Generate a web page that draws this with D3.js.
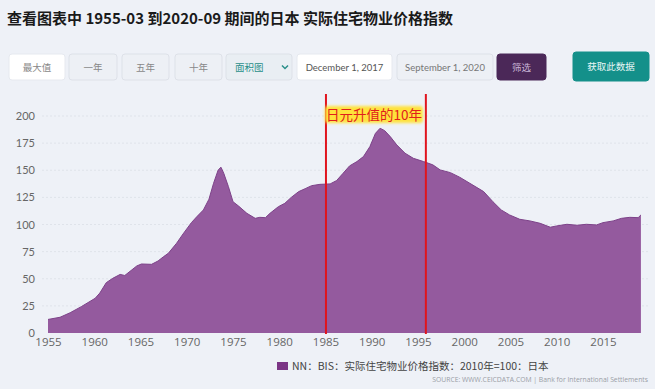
<!DOCTYPE html>
<html><head><meta charset="utf-8">
<script src="https://cdn.jsdelivr.net/npm/d3@7"></script>
<style>
html,body{margin:0;padding:0;background:#eef1f7;}
svg{display:block;font-family:"Noto Sans CJK SC","Noto Sans",sans-serif;}
</style></head>
<body><svg id="c" width="655" height="389"></svg>
<script>
const titleText = "查看图表中 1955-03 到2020-09 期间的日本 实际住宅物业价格指数";
const buttons = ["最大值","一年","五年","十年"];
const chartType = "面积图";
const dateFrom = "December 1, 2017";
const dateTo = "September 1, 2020";
const filterLabel = "筛选";
const getDataLabel = "获取此数据";
const annotationText = "日元升值的10年";
const markerYears = [1985.05, 1995.85];
const legendText = "NN：BIS：实际住宅物业价格指数：2010年=100：日本";
const sourceText = "SOURCE: WWW.CEICDATA.COM | Bank for International Settlements";
const yTicks = [0,25,50,75,100,125,150,175,200];
const xTicks = [1955,1960,1965,1970,1975,1980,1985,1990,1995,2000,2005,2010,2015];
const years = [1955.0,1956.3,1957.4,1958.6,1960.1,1960.6,1961.3,1962.0,1962.8,1963.3,1964.6,1965.1,1966.2,1966.9,1967.5,1968.0,1968.9,1969.6,1970.5,1971.1,1971.8,1972.4,1972.9,1973.4,1973.7,1974.0,1974.5,1975.0,1975.6,1976.5,1977.4,1977.9,1978.5,1979.0,1979.9,1980.6,1981.3,1982.1,1982.8,1983.5,1984.4,1985.5,1986.2,1986.9,1987.6,1988.4,1989.1,1989.8,1990.4,1990.9,1991.4,1992.0,1992.7,1993.6,1994.5,1995.6,1996.6,1997.4,1998.5,1999.5,2000.6,2002.1,2003.1,2004.0,2004.9,2006.0,2007.1,2008.2,2009.3,2010.0,2011.1,2012.2,2013.2,2014.3,2015.0,2016.1,2017.0,2017.9,2018.8,2019.1];
const values = [12.5,14.5,18.7,24.3,32,36.8,46.4,50.4,54,53,61.8,63.6,63.3,66.4,70.4,73.4,82.7,91.3,101.7,107.3,113.4,123.3,138,150.3,152.8,147.2,135,121,117,110.3,105.7,106.6,106.3,110.3,116.4,119.5,125,130.3,133,135.8,137,137.4,140.5,147.2,154,158,162.6,171.8,184,188.7,186.5,181,173.4,165.7,161,158,155,150.3,147.8,143.6,138,130.3,121,113.4,108.8,104.8,103.3,101.1,97.5,98.7,100.2,99.3,100.2,99.6,101.7,103.3,105.7,106.6,106.3,108.8];

const svg = d3.select("#c");
const defs = svg.append("defs");
defs.append("filter").attr("id","glow").attr("x","-20%").attr("y","-50%").attr("width","140%").attr("height","200%")
  .append("feGaussianBlur").attr("stdDeviation",1.5);

// title
svg.append("text").attr("x",7).attr("y",24).attr("font-size",15).attr("font-weight","bold").attr("fill","#1a1a1a").text(titleText);

// buttons
const btns = [
 {x:9,w:56,t:buttons[0],bg:"#ffffff",fg:"#888",stroke:"#e6e9ef"},
 {x:69,w:48,t:buttons[1],bg:"#edf0f5",fg:"#888",stroke:"#dde1e8"},
 {x:122,w:47,t:buttons[2],bg:"#edf0f5",fg:"#888",stroke:"#dde1e8"},
 {x:175,w:47,t:buttons[3],bg:"#edf0f5",fg:"#888",stroke:"#dde1e8"},
 {x:226,w:66,t:chartType,bg:"#e9eef3",fg:"#2a8f8a",stroke:"#dde1e8",left:true},
 {x:297,w:95,t:dateFrom,bg:"#ffffff",fg:"#555",stroke:"#e6e9ef"},
 {x:397,w:96,t:dateTo,bg:"#edf0f5",fg:"#777",stroke:"#dde1e8"},
 {x:497,w:49,t:filterLabel,bg:"#4b2858",fg:"#c9b5d6",stroke:"#4b2858"},
 {x:573,w:76,t:getDataLabel,bg:"#14908a",fg:"#e8f6f5",stroke:"#14908a",y:52,h:29}
];
btns.forEach(b=>{
  const y=b.y||54,h=b.h||26;
  svg.append("rect").attr("x",b.x).attr("y",y).attr("width",b.w).attr("height",h).attr("rx",3)
    .attr("fill",b.bg).attr("stroke",b.stroke);
  svg.append("text").attr("x",b.left?b.x+9:b.x+b.w/2).attr("y",y+h/2+3.5)
    .attr("text-anchor",b.left?"start":"middle").attr("font-size",9.5).attr("fill",b.fg)
    .attr("font-family",/^[A-Z]/.test(b.t)?"Lato, sans-serif":null).text(b.t);
  if(b.left){
    svg.append("path").attr("d",`M${b.x+b.w-10},${y+h/2-1.5} l3,3 l3,-3`).attr("fill","none").attr("stroke","#2a8f8a").attr("stroke-width",1.5);
  }
});

const x = d3.scaleLinear().domain([1955,2020]).range([48,649.25]);
const y = d3.scaleLinear().domain([0,200]).range([333,116]);

// grid
svg.append("g").selectAll("line").data(yTicks.filter(d=>d>0)).join("line")
  .attr("x1",42).attr("x2",650).attr("y1",d=>y(d)).attr("y2",d=>y(d))
  .attr("stroke","#dfe3ea").attr("stroke-dasharray","2,2");

// area
const data = years.map((yr,i)=>({yr,v:values[i]}));
svg.append("path").datum(data)
  .attr("d",d3.area().x(d=>x(d.yr)).y0(y(0)).y1(d=>y(d.v)))
  .attr("fill","#945a9e");
svg.append("path").datum(data)
  .attr("d",d3.line().x(d=>x(d.yr)).y(d=>y(d.v)))
  .attr("fill","none").attr("stroke","#7d4289").attr("stroke-width",1);

// axes
const ya = d3.axisLeft(y).tickValues(yTicks).tickSize(0).tickPadding(0);
const gy = svg.append("g").attr("transform","translate(35,0)").call(ya);
gy.select(".domain").remove();
gy.selectAll("text").attr("font-size",11).attr("fill","#666").attr("font-family","Lato, 'Open Sans', sans-serif");

const xa = d3.axisBottom(x).tickValues(xTicks).tickFormat(d3.format("d")).tickSize(0).tickPadding(4);
const gx = svg.append("g").attr("transform","translate(0,334)").call(xa);
gx.select(".domain").remove();
gx.selectAll("text").attr("font-size",11.5).attr("fill","#666").attr("font-family","'Open Sans', Lato, sans-serif");

// markers
svg.append("g").selectAll("line").data(markerYears).join("line")
  .attr("x1",d=>x(d)).attr("x2",d=>x(d)).attr("y1",94).attr("y2",334)
  .attr("stroke","#e0141e").attr("stroke-width",2);

// annotation
const ag = svg.append("g");
const hl = ag.append("rect");
const ann = ag.append("text").attr("x",x(markerYears[0])).attr("y",120).attr("font-size",13.5)
  .attr("fill","#e0201b").attr("font-family","'Noto Sans CJK SC', sans-serif").text(annotationText);
const bb = ann.node().getBBox();
hl.attr("x",bb.x-1).attr("y",bb.y+2).attr("width",bb.width+2).attr("height",bb.height-3)
  .attr("rx",3).attr("fill","#ffe23a").attr("filter","url(#glow)");

// legend
svg.append("rect").attr("x",277).attr("y",362).attr("width",11).attr("height",8).attr("fill","#7b3585");
svg.append("text").attr("x",292).attr("y",370).attr("font-size",10.5).attr("fill","#444").text(legendText);
svg.append("text").attr("x",648).attr("y",382).attr("text-anchor","end").attr("font-size",6.8).attr("fill","#9a9ea6").attr("font-family","'Open Sans', sans-serif").text(sourceText);
</script>
</body></html>
